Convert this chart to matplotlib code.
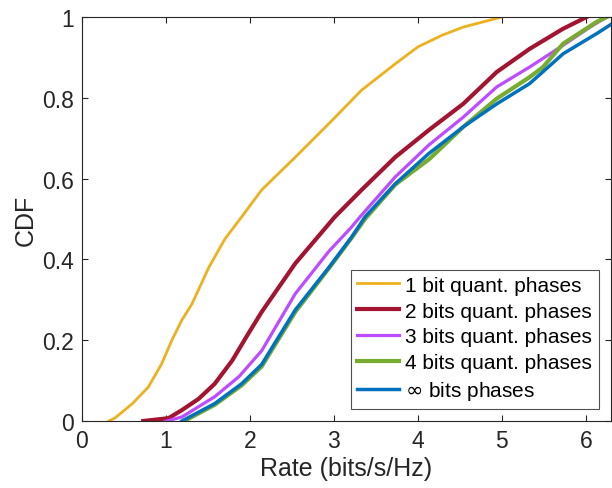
import matplotlib
matplotlib.use("Agg")
import matplotlib.pyplot as plt

plt.rcParams['font.family'] = ['Liberation Sans', 'DejaVu Sans']
plt.rcParams['mathtext.fontset'] = 'dejavusans'

# --- data ---
x_1bit = [0.32, 0.39, 0.60, 0.79, 0.95, 1.07, 1.19, 1.31, 1.51, 1.70, 1.90, 2.14, 2.54, 2.94, 3.33, 3.73, 4.00, 4.29, 4.54, 5.00]
y_1bit = [0.0, 0.007, 0.043, 0.084, 0.142, 0.20, 0.25, 0.29, 0.38, 0.45, 0.505, 0.572, 0.653, 0.736, 0.819, 0.884, 0.926, 0.955, 0.975, 1.0]

x_2bit = [0.73, 1.03, 1.19, 1.39, 1.58, 1.79, 1.98, 2.14, 2.54, 3.01, 3.33, 3.73, 4.13, 4.54, 4.94, 5.33, 5.73, 6.01]
y_2bit = [0.0, 0.007, 0.027, 0.055, 0.092, 0.15, 0.216, 0.27, 0.39, 0.505, 0.572, 0.653, 0.72, 0.785, 0.864, 0.921, 0.971, 1.0]

x_3bit = [1.01, 1.19, 1.58, 1.87, 2.14, 2.54, 2.94, 3.21, 3.31, 3.73, 4.13, 4.54, 4.94, 5.33, 5.73, 6.05, 6.25]
y_3bit = [0.0, 0.01, 0.06, 0.11, 0.174, 0.315, 0.42, 0.48, 0.505, 0.604, 0.683, 0.752, 0.827, 0.876, 0.93, 0.975, 1.0]

x_4bit = [1.22, 1.58, 1.90, 2.14, 2.54, 2.94, 3.21, 3.37, 3.73, 4.14, 4.54, 4.94, 5.33, 5.49, 5.73, 6.13, 6.25]
y_4bit = [0.0, 0.04, 0.088, 0.135, 0.27, 0.378, 0.453, 0.50, 0.585, 0.649, 0.728, 0.798, 0.851, 0.876, 0.934, 0.988, 1.0]

x_inf = [1.19, 1.58, 1.90, 2.14, 2.54, 2.94, 3.21, 3.37, 3.73, 4.13, 4.54, 4.94, 5.33, 5.73, 6.13, 6.31, 6.38]
y_inf = [0.0, 0.043, 0.092, 0.14, 0.275, 0.38, 0.455, 0.505, 0.587, 0.662, 0.728, 0.785, 0.835, 0.909, 0.959, 0.983, 1.0]

labels = ['1 bit quant. phases', '2 bits quant. phases', '3 bits quant. phases',
          '4 bits quant. phases', r'$\infty$ bits phases']
colors = ['#EDB120', '#A2142F', '#BD4BFF', '#77AC30', '#0072BD']
widths = [2.0, 3.0, 2.3, 3.0, 2.5]

xticks = [0, 1, 2, 3, 4, 5, 6]
yticks = [0, 0.2, 0.4, 0.6, 0.8, 1]
ytick_labels = ['0', '0.2', '0.4', '0.6', '0.8', '1']

fig = plt.figure(figsize=(6.12, 4.89), dpi=100)
ax = fig.add_axes([82/612, (489-422)/489, (611-82)/612, (422-18)/489])

series = [(x_1bit, y_1bit), (x_2bit, y_2bit), (x_3bit, y_3bit), (x_4bit, y_4bit), (x_inf, y_inf)]
for (xs, ys), lab, c, w in zip(series, labels, colors, widths):
    ax.plot(xs, ys, color=c, lw=w, label=lab, solid_joinstyle='round')

ax.set_xlim(0, 6.3)
ax.set_ylim(0, 1)
ax.set_xticks(xticks)
ax.set_yticks(yticks)
ax.set_yticklabels(ytick_labels)
ax.tick_params(direction='in', length=4, width=0.8, colors='#262626', labelsize=16.5,
               top=True, right=True, pad=6)
for s in ax.spines.values():
    s.set_color('#262626')
    s.set_linewidth(0.8)

ax.set_xlabel('Rate (bits/s/Hz)', fontsize=18, color='#262626', labelpad=3)
ax.set_ylabel('CDF', fontsize=18, color='#262626', labelpad=3)

leg = ax.legend(loc='lower right', fontsize=15, frameon=True, fancybox=False,
                edgecolor='#262626', handlelength=2.0, handletextpad=0.3,
                labelspacing=0.33, borderpad=0.3, borderaxespad=0.6)
leg.get_frame().set_linewidth(0.8)
for t in leg.get_texts():
    t.set_color('black')

fig.savefig('out.png', dpi=100)
